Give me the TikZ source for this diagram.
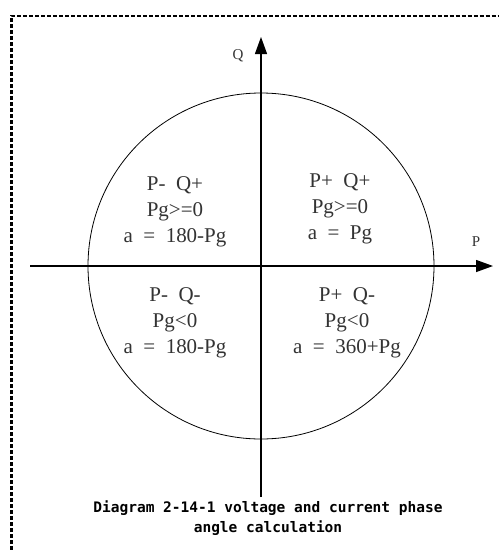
\documentclass[tikz,border=0pt]{standalone}
\usepackage{fontspec}
\usepackage{tikz}
\usetikzlibrary{arrows.meta, positioning}
\setmainfont{Liberation Serif}
\newfontfamily\quadfont{Liberation Serif}[WordSpace=2]
\newfontfamily\capfont{DejaVu Sans Mono}
\tikzset{
  quadlabel/.style={align=center, inner sep=0pt, font=\quadfont\fontsize{21}{26}\selectfont, text=black!80},
  axislabel/.style={inner sep=0pt, font=\quadfont\fontsize{15}{18}\selectfont, text=black!80},
  axisline/.style={line width=1.3pt, -{Triangle[length=17pt,width=12pt]}},
}
\begin{document}
\begin{tikzpicture}[x=1pt,y=-1pt]
\useasboundingbox (0,0) rectangle (499,550);
\draw[line width=2.6pt, dash pattern=on 4pt off 2pt] (11.5,550) -- (11.5,16) -- (499,16);
\begin{scope}
\coordinate (O) at (261,266);
\coordinate (Pstart) at (30,266);
\coordinate (Pend) at (493,266);
\coordinate (Qstart) at (261,497);
\coordinate (Qend) at (261,37);
\draw[line width=0.8pt] (O) circle (173);
\draw[axisline] (Pstart)--(Pend);
\draw[axisline] (Qstart)--(Qend);
\node[axislabel] (P) at (476,242) {P};
\node[axislabel] (Q) at (238,56) {Q};
\node[quadlabel] (pq) at (175,212) {P- Q+\\Pg>=0\\a = 180-Pg};
\node[quadlabel] (ppq) at (340,209) {P+ Q+\\Pg>=0\\a = Pg};
\node[quadlabel] (pnq) at (175,323) {P- Q-\\Pg<0\\a = 180-Pg};
\node[quadlabel] (ppnq) at (347,323) {P+ Q-\\Pg<0\\a = 360+Pg};
\node[align=center, inner sep=0pt, font=\capfont\bfseries\fontsize{14.5}{20}\selectfont] (caption) at (268,518)
  {Diagram 2-14-1 voltage and current phase\\angle calculation};
\end{scope}
\end{tikzpicture}
\end{document}
